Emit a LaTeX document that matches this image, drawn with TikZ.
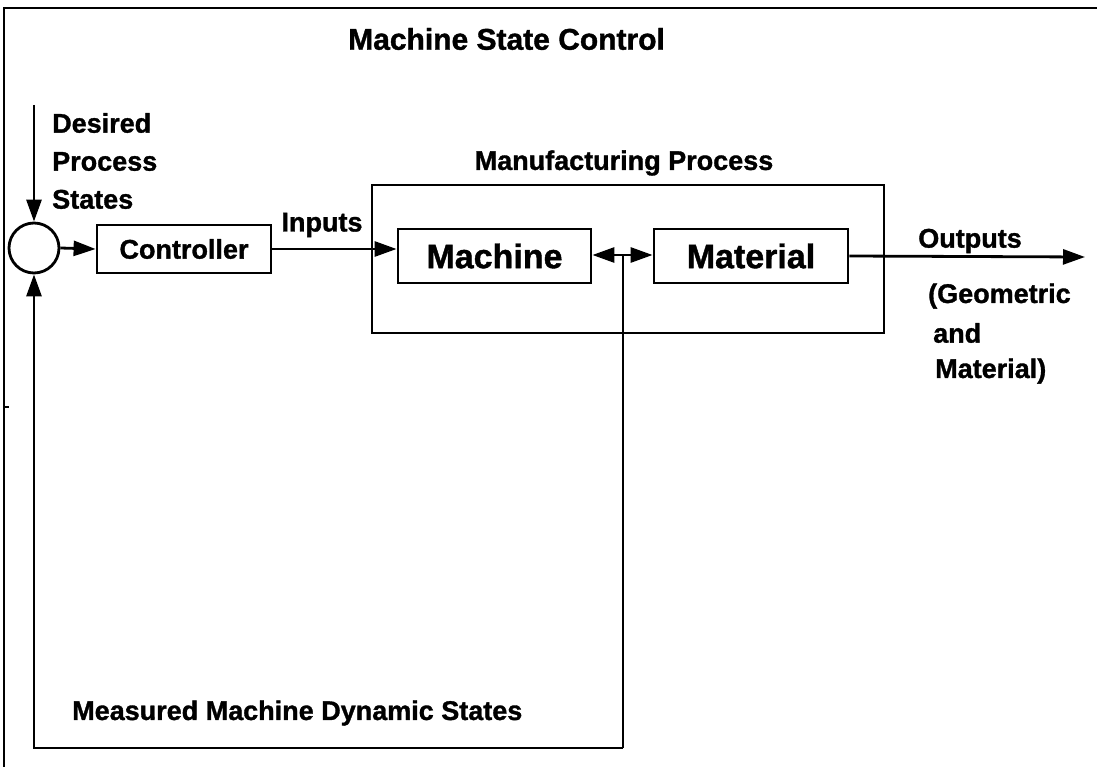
\documentclass[tikz,border=0pt]{standalone}
\usepackage{fontspec}
\setmainfont{Liberation Sans}[BoldFeatures={FakeBold=1.2}]
\usetikzlibrary{arrows.meta,calc}

\tikzset{
  wire/.style={line width=2.8pt},
  flow/.style={wire,-{Triangle[length=22pt,width=15pt]}},
  blockbox/.style={draw,line width=2.8pt,inner sep=0pt},
  lbl/.style={font=\bfseries\fontsize{27}{38}\selectfont,inner sep=0pt},
  biglbl/.style={font=\bfseries\fontsize{34}{40}\selectfont,inner sep=0pt},
}

\begin{document}
\begin{tikzpicture}[x=1pt,y=-1pt]
  \useasboundingbox (0,0) rectangle (1097,767);

  % outer frame (top and left edges)
  \coordinate (ftr) at (1097,8);
  \coordinate (ftl) at (4,8);
  \coordinate (fbl) at (4,767);
  \draw[line width=2.4pt] (ftr) -- (ftl) -- (fbl);
  \coordinate (tickA) at (4,407);
  \coordinate (tickB) at (9,407);
  \draw[line width=1.6pt] (tickA) -- (tickB);

  % title
  \node[lbl,font=\bfseries\fontsize{30}{36}\selectfont,anchor=west] (title) at (348,39) {Machine State Control};

  % summing junction and reference input
  \node[draw,circle,line width=2.8pt,minimum size=50pt,inner sep=0pt] (sum) at (34,248) {};
  \coordinate (dtop) at (34,105);
  \draw[flow] (dtop) -- (sum.north);
  \node[lbl,anchor=west,align=left] (desired) at (52,161) {Desired\\Process\\States};

  % controller
  \node[blockbox,minimum width=174pt,minimum height=48pt,lbl] (ctrl) at (184,249) {Controller};
  \draw[flow] (sum.east) -- (ctrl.west);

  % manufacturing process
  \node[blockbox,minimum width=512pt,minimum height=148pt] (mp) at (628,259) {};
  \node[lbl] (mplabel) at (624,163) {Manufacturing Process};
  \node[blockbox,minimum width=193pt,minimum height=54pt,biglbl] (machine) at (494.5,256) {Machine};
  \node[blockbox,minimum width=194pt,minimum height=54pt,biglbl] (material) at (751,256) {Material};

  % inputs
  \draw[flow] (ctrl.east) -- (ctrl.east -| machine.west);
  \node[lbl] (inputs) at (322,225) {Inputs};

  % machine/material interaction and measured feedback
  \coordinate (j) at (623,255);
  \draw[flow] (j) -- (j -| machine.east);
  \draw[flow] (j) -- (j -| material.west);
  \coordinate (fb) at (623,748);
  \draw[wire] (j) -- (fb);
  \draw[flow] (fb) -| (sum.south);
  \node[lbl,anchor=west] (measured) at (72,713) {Measured Machine Dynamic States};

  % outputs
  \coordinate (out) at (1085,257);
  \draw[flow] (material.east) -- (out);
  \node[lbl] (outputs) at (970,241) {Outputs};
  \node[lbl,anchor=west] (geo) at (928,296) {(Geometric};
  \node[lbl,anchor=west] (and) at (933,333) {and};
  \node[lbl,anchor=west] (mat) at (935,371) {Material)};
\end{tikzpicture}
\end{document}
